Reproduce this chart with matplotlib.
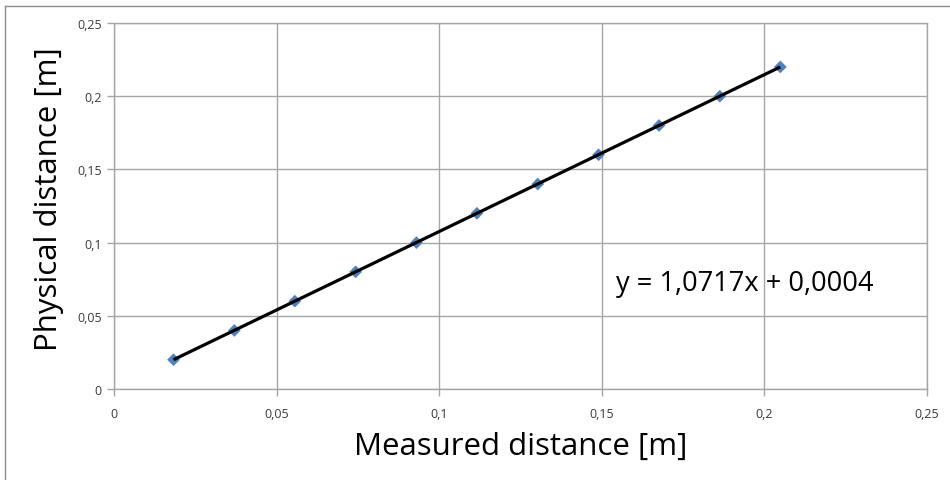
import matplotlib
matplotlib.use("Agg")
import matplotlib.pyplot as plt
from matplotlib.lines import Line2D

# Data
measured = [0.0183, 0.0370, 0.0556, 0.0743, 0.0930, 0.1116, 0.1303, 0.1490, 0.1676, 0.1863, 0.2049]
physical = [0.02, 0.04, 0.06, 0.08, 0.10, 0.12, 0.14, 0.16, 0.18, 0.20, 0.22]
slope = 1.0717
intercept = 0.0004
ticks = [0, 0.05, 0.1, 0.15, 0.2, 0.25]
tick_labels = ["0", "0,05", "0,1", "0,15", "0,2", "0,25"]
x_label = "Measured distance [m]"
y_label = "Physical distance [m]"
eq_text = "y = 1,0717x + 0,0004"

plt.rcParams['font.family'] = ['Open Sans', 'DejaVu Sans']

fig = plt.figure(figsize=(9.5, 4.81), dpi=100)
ax = fig.add_axes([114/950, 91/481, 813/950, 366/481])

grid_c = "#A6A6A6"
ax.set_xlim(0, 0.25)
ax.set_ylim(0, 0.25)
ax.set_xticks(ticks)
ax.set_yticks(ticks)
ax.set_xticklabels(tick_labels)
ax.set_yticklabels(tick_labels)
ax.grid(True, color=grid_c, linewidth=1.0)
ax.set_axisbelow(True)
for s in ax.spines.values():
    s.set_color(grid_c)
    s.set_linewidth(1.0)
ax.tick_params(axis='both', colors=grid_c, labelcolor="#3A3A3A", labelsize=9, length=5, width=1)
ax.tick_params(axis='x', pad=8)
ax.tick_params(axis='y', pad=4)

# trendline
xl = [measured[0], measured[-1]]
yl = [slope * v + intercept for v in xl]
ax.scatter(measured, physical, marker='D', s=42, color="#4F81BD", zorder=3, edgecolors='none')
ax.plot(xl, yl, color="black", linewidth=2.3, zorder=4, solid_capstyle='butt')

ax.text(0.1545, 0.0725, eq_text, fontsize=19.6, color="black", va='center', ha='left')

ax.set_xlabel(x_label, fontsize=22.5, labelpad=8)
ax.set_ylabel(y_label, fontsize=22.5)
ax.yaxis.set_label_coords(-50/813, (390 - 199) / 366)

# outer chart border (left and top)
fig.add_artist(Line2D([5/950, 5/950], [0, 1 - 7/481], transform=fig.transFigure, color="#8C8C8C", linewidth=1))
fig.add_artist(Line2D([5/950, 1], [1 - 7/481, 1 - 7/481], transform=fig.transFigure, color="#8C8C8C", linewidth=1))

fig.savefig("out.png", dpi=100)
